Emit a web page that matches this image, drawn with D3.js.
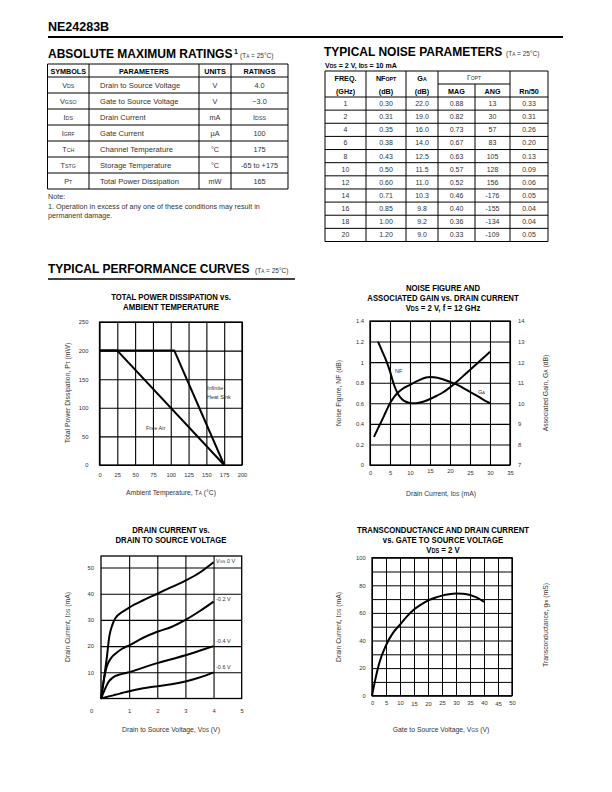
<!DOCTYPE html>
<html><head><meta charset="utf-8">
<script src="https://cdn.jsdelivr.net/npm/d3@7/dist/d3.min.js"></script>
<style>html,body{margin:0;padding:0;background:#fff}svg{display:block}</style>
</head><body>
<svg id="page" width="612" height="792" xmlns="http://www.w3.org/2000/svg"></svg>
<script>
// ================= DATA =================
// Absolute maximum ratings table
const amrSymbols = [["V","DS"],["V","GSO"],["I","DS"],["I","GRF"],["T","CH"],["T","STG"],["P","T"]];
const amrParams = ["Drain to Source Voltage","Gate to Source Voltage","Drain Current","Gate Current","Channel Temperature","Storage Temperature","Total Power Dissipation"];
const amrUnits = ["V","V","mA","\u00B5A","\u00B0C","\u00B0C","mW"];
const amrRatings = [["4.0"],["\u22123.0"],["I","DSS"],["100"],["175"],["-65 to +175"],["165"]];

// Typical noise parameters table
const noiseFreq = [1,2,4,6,8,10,12,14,16,18,20];
const noiseNF   = [0.30,0.31,0.35,0.38,0.43,0.50,0.60,0.71,0.85,1.00,1.20];
const noiseGA   = [22.0,19.0,16.0,14.0,12.5,11.5,11.0,10.3,9.8,9.2,9.0];
const noiseMag  = [0.88,0.82,0.73,0.67,0.63,0.57,0.52,0.46,0.40,0.36,0.33];
const noiseAng  = [13,30,57,83,105,128,156,-176,-155,-134,-109];
const noiseRn   = [0.33,0.31,0.26,0.20,0.13,0.09,0.06,0.05,0.04,0.04,0.05];

// Chart 1: total power dissipation vs ambient temperature
const pdTempTicks  = [0,25,50,75,100,125,150,175,200];
const pdPowerTicks = [0,50,100,150,200,250];
const heatSinkTemp  = [0,105,175];
const heatSinkPower = [200,200,0];
const freeAirTemp   = [0,25,175];
const freeAirPower  = [200,200,0];

// Chart 2: noise figure & associated gain vs drain current
const nfIdsTicks = [0,5,10,15,20,25,30,35];
const nfTicks    = [0,0.2,0.4,0.6,0.8,1,1.2,1.4];
const gaTicks    = [7,8,9,10,11,12,13,14];
const nfIds  = [2,3,4,5,6,7,8,9,10,11,12,13,14,16,18,20,22,24,26,28,30];
const nfVals = [1.2,1.11,1.02,0.91,0.78,0.69,0.64,0.615,0.603,0.60,0.603,0.612,0.625,0.66,0.70,0.755,0.82,0.89,0.96,1.03,1.1];
const gaIds  = [1,2,3,4,5,6,7,8,10,12,14,15,16,18,20,22,24,26,28,30];
const gaVals = [8.37,8.78,9.18,9.6,10.0,10.3,10.52,10.68,10.9,11.1,11.25,11.28,11.27,11.18,11.04,10.88,10.66,10.45,10.22,10.0];

// Chart 3: drain current vs drain-source voltage
const vdsTicks = [0,1,2,3,4,5];
const idsTicks = [10,20,30,40,50];
const vdsPts   = [0,0.1,0.2,0.3,0.4,0.5,0.75,1,1.5,2,2.5,3,3.5,4];
const idsVgs0  = [0,7,15,24,28,30.5,33,34.7,37.5,40,42.5,45,48,52];
const idsVgs02 = [0,7,12,14.5,16,17,19,20.3,23.2,25.5,27.3,30,33.3,37];
const idsVgs04 = [0,2.5,5,6.8,7.8,8.5,9.4,10,11.8,13.5,15,16.5,18.2,20];
const idsVgs06 = [0,0.3,0.6,0.9,1.1,1.4,2.1,2.8,3.9,4.7,5.4,6.5,8,10];
const vgsCurveLabels = ["0 V","-0.2 V","-0.4 V","-0.6 V"];

// Chart 4: transconductance & drain current vs gate-source voltage
const vgsTicks  = [0,5,10,15,20,25,30,35,40,45,50];
const idTicks4  = [0,20,40,60,80,100];
const vgsPts    = [0,1,2.5,5,7.5,10,12.5,15,17.5,20,22.5,25,27.5,30,32.5,35,37.5,40];
const idsVsVgs  = [0,10,23,36.5,45.5,51.5,57.5,62.5,66,69,71,72.5,73.5,74,73.8,73,71,68];

// ================= DRAWING =================
const FONT = '"Liberation Sans", Arial, Helvetica, sans-serif';
const svg = d3.select("#page").attr("font-family", FONT);
svg.append("rect").attr("width",612).attr("height",792).attr("fill","#fff");

function T(parent, x, y, parts, o = {}) {
  const size = o.size || 7;
  const t = parent.append("text").attr("x", x).attr("y", y).attr("font-size", size)
    .attr("fill", o.fill || "#333").attr("text-anchor", o.anchor || "start");
  if (o.bold) t.attr("font-weight", "bold");
  if (o.rotate) t.attr("transform", `rotate(-90 ${x} ${y})`);
  (Array.isArray(parts) ? parts : [parts]).forEach(p => {
    if (typeof p === "string") t.append("tspan").text(p);
    else t.append("tspan").attr("font-size", size * (p.k || 0.72)).text(p.s);
  });
  if (o.squeeze) {
    const w = t.node().getComputedTextLength();
    t.attr("textLength", w * o.squeeze).attr("lengthAdjust", "spacingAndGlyphs");
  }
  return t;
}
function L(parent, x1, y1, x2, y2, w = 1, c = "#000") {
  parent.append("line").attr("x1",x1).attr("y1",y1).attr("x2",x2).attr("y2",y2)
    .attr("stroke",c).attr("stroke-width",w);
}

// ---- Header ----
T(svg, 48, 31, "NE24283B", {size: 12.5, bold: true, fill: "#000"});
L(svg, 48, 37, 563, 37, 2);

// ---- Absolute maximum ratings ----
T(svg, 48, 58, "ABSOLUTE MAXIMUM RATINGS", {size: 12, bold: true, fill: "#000"});
T(svg, 234, 53.5, "1", {size: 7, bold: true, fill: "#000"});
T(svg, 240, 58, ["(T", {s:"A"}, " = 25\u00B0C)"], {size: 6.5, fill: "#333"});

const amr = svg.append("g");
const amrCols = [47.5, 89, 199, 231, 288];
const amrTop = 64, amrHeadBot = 77, amrRowH = 16;
const amrBot = amrHeadBot + amrRowH * amrParams.length;
amrCols.forEach(c => L(amr, c, amrTop, c, amrBot, 1));
L(amr, amrCols[0], amrTop, amrCols[4], amrTop, 1);
d3.range(amrParams.length + 1).forEach(i => L(amr, amrCols[0], amrHeadBot + i*amrRowH, amrCols[4], amrHeadBot + i*amrRowH, 1));
const amrHeads = ["SYMBOLS","PARAMETERS","UNITS","RATINGS"];
amrHeads.forEach((h,i) => T(amr, (amrCols[i]+amrCols[i+1])/2, 73.8, h, {size: 8, bold: true, fill: "#000", anchor: "middle", squeeze: 0.9}));
amrParams.forEach((p,i) => {
  const yb = amrHeadBot + i*amrRowH + 10.6;
  T(amr, (amrCols[0]+amrCols[1])/2, yb, [amrSymbols[i][0], {s: amrSymbols[i][1]}], {size: 7.3, anchor: "middle"});
  T(amr, 100, yb, p, {size: 7.6});
  T(amr, (amrCols[2]+amrCols[3])/2, yb, amrUnits[i], {size: 7.3, anchor: "middle"});
  const r = amrRatings[i];
  T(amr, (amrCols[3]+amrCols[4])/2, yb, r.length > 1 ? [r[0], {s: r[1]}] : r[0], {size: 7.3, anchor: "middle"});
});
T(svg, 48, 198.5, "Note:", {size: 7.2});
T(svg, 48, 208.5, "1. Operation in excess of any one of these conditions may result in", {size: 7.2});
T(svg, 48, 217.5, "permanent damage.", {size: 7.2});

// ---- Typical noise parameters ----
T(svg, 324, 56, "TYPICAL NOISE PARAMETERS", {size: 12, bold: true, fill: "#000"});
T(svg, 506, 56, ["(T", {s:"A"}, " = 25\u00B0C)"], {size: 6.5, fill: "#333"});
T(svg, 325, 68, ["V", {s:"DS"}, " = 2 V, I", {s:"DS"}, " = 10 mA"], {size: 7.5, bold: true, fill: "#000", squeeze: 0.94});

const nz = svg.append("g");
const nzCols = [325, 366, 406, 438, 475, 510, 548];
const nzTop = 71, nzSub = 84, nzHeadBot = 97, nzBot = 241.5;
const nzRowH = (nzBot - nzHeadBot) / noiseFreq.length;
[0,1,2,3,5,6].forEach(i => L(nz, nzCols[i], nzTop, nzCols[i], nzBot, 1));
L(nz, nzCols[4], nzSub, nzCols[4], nzBot, 1);
L(nz, nzCols[0], nzTop, nzCols[6], nzTop, 1);
L(nz, nzCols[3], nzSub, nzCols[5], nzSub, 1);
d3.range(noiseFreq.length + 1).forEach(i => L(nz, nzCols[0], nzHeadBot + i*nzRowH, nzCols[6], nzHeadBot + i*nzRowH, 1));
const cx = i => (nzCols[i] + nzCols[i+1]) / 2;
const hb = {size: 8, bold: true, fill: "#000", anchor: "middle", squeeze: 0.9};
T(nz, cx(0), 80.5, "FREQ.", hb);   T(nz, cx(0), 93.5, "(GHz)", hb);
T(nz, cx(1), 80.5, ["NF", {s:"OPT"}], hb); T(nz, cx(1), 93.5, "(dB)", hb);
T(nz, cx(2), 80.5, ["G", {s:"A"}], hb);    T(nz, cx(2), 93.5, "(dB)", hb);
T(nz, (nzCols[3]+nzCols[5])/2, 80, ["\u0393", {s:"OPT"}], {size: 7, anchor: "middle"});
T(nz, cx(3), 93.5, "MAG", hb); T(nz, cx(4), 93.5, "ANG", hb); T(nz, cx(5), 93.5, "Rn/50", hb);
const f2 = d3.format(".2f"), f1 = d3.format(".1f");
noiseFreq.forEach((f,i) => {
  const yb = nzHeadBot + i*nzRowH + nzRowH/2 + 2.5;
  const o = {size: 7, anchor: "middle"};
  T(nz, cx(0), yb, String(f), o);
  T(nz, cx(1), yb, f2(noiseNF[i]), o);
  T(nz, cx(2), yb, f1(noiseGA[i]), o);
  T(nz, cx(3), yb, f2(noiseMag[i]), o);
  T(nz, cx(4), yb, String(noiseAng[i]), o);
  T(nz, cx(5), yb, f2(noiseRn[i]), o);
});

// ---- Performance curves heading ----
T(svg, 48, 273, "TYPICAL PERFORMANCE CURVES", {size: 12, bold: true, fill: "#000"});
T(svg, 255, 273, ["(T", {s:"A"}, " = 25\u00B0C)"], {size: 6.5, fill: "#333"});
L(svg, 48, 279, 295, 279, 1.3);

// ---- generic plot frame ----
const TICK = 5.8;
function plot(cfg) {
  const g = svg.append("g");
  const x = d3.scaleLinear().domain(cfg.xDom).range([cfg.x0, cfg.x1]);
  const y = d3.scaleLinear().domain(cfg.yDom).range([cfg.y1, cfg.y0]);
  const h = cfg.y1 - cfg.y0, w = cfg.x1 - cfg.x0;
  const style = a => {
    a.attr("font-family", FONT).attr("font-size", TICK);
    a.select(".domain").remove();
    a.selectAll("line").attr("stroke", "#000").attr("stroke-width", cfg.gw || 1.1);
    a.selectAll("text").attr("fill", "#333");
  };
  g.append("g").attr("transform", `translate(0,${cfg.y1})`)
    .call(d3.axisBottom(x).tickValues(cfg.xGrid).tickSize(-h).tickFormat("")).call(style);
  g.append("g").attr("transform", `translate(${cfg.x0},0)`)
    .call(d3.axisLeft(y).tickValues(cfg.yGrid).tickSize(-w).tickFormat("")).call(style);
  const ax = g.append("g").attr("transform", `translate(0,${cfg.y1})`)
    .call(d3.axisBottom(x).tickValues(cfg.xTicks).tickSize(0).tickPadding(cfg.xPad).tickFormat(d3.format(""))).call(style);
  const ay = g.append("g").attr("transform", `translate(${cfg.x0},0)`)
    .call(d3.axisLeft(y).tickValues(cfg.yTicks).tickSize(0).tickPadding(cfg.yPad).tickFormat(cfg.yFmt || d3.format(""))).call(style);
  g.append("rect").attr("x", cfg.x0).attr("y", cfg.y0).attr("width", w).attr("height", h)
    .attr("fill", "none").attr("stroke", "#000").attr("stroke-width", 1.3);
  return {g, x, y, ax, ay};
}
function curve(p, xs, ys, xv, yv, curveType) {
  const pts = xv.map((v,i) => [v, yv[i]]);
  p.g.append("path").attr("d", d3.line().x(d => xs(d[0])).y(d => ys(d[1])).curve(curveType || d3.curveMonotoneX)(pts))
    .attr("fill", "none").attr("stroke", "#000").attr("stroke-width", 2).attr("stroke-linejoin", "round");
}
const TT = {size: 8.8, bold: true, fill: "#000", anchor: "middle", squeeze: 0.88};
const AX = {size: 6.8, fill: "#333", anchor: "middle"};

// ---- Chart 1 ----
{
  const c = {x0: 99.5, x1: 242, y0: 322, y1: 465, xDom: [0,200], yDom: [0,250],
    xGrid: pdTempTicks, yGrid: pdPowerTicks, xTicks: pdTempTicks, yTicks: pdPowerTicks, xPad: 8, yPad: 11};
  const p = plot(c);
  T(svg, 171, 300, "TOTAL POWER DISSIPATION vs.", TT);
  T(svg, 171, 310, "AMBIENT TEMPERATURE", TT);
  curve(p, p.x, p.y, heatSinkTemp, heatSinkPower, d3.curveLinear);
  curve(p, p.x, p.y, freeAirTemp, freeAirPower, d3.curveLinear);
  T(p.g, 207, 390, "Infinite", {size: 5.5});
  T(p.g, 207, 398.5, "Heat Sink", {size: 5.5});
  T(p.g, 146, 429.5, "Free Air", {size: 5.5});
  T(svg, 69.5, 393, ["Total Power Dissipation, P", {s:"T"}, " (mW)"], {...AX, rotate: true});
  T(svg, 171, 495, ["Ambient Temperature, T", {s:"A"}, " (\u00B0C)"], AX);
}

// ---- Chart 2 ----
{
  const c = {x0: 370, x1: 510, y0: 321, y1: 465, xDom: [0,35], yDom: [0,1.4],
    xGrid: nfIdsTicks, yGrid: nfTicks, xTicks: nfIdsTicks, yTicks: nfTicks, xPad: 6, yPad: 6};
  const p = plot(c);
  p.ax.selectAll(".tick text").filter(d => d === 15 || d === 20).attr("dy", "0.4em");
  const yR = d3.scaleLinear().domain([7,14]).range([c.y1, c.y0]);
  const ar = p.g.append("g").attr("transform", `translate(${c.x1},0)`)
    .call(d3.axisRight(yR).tickValues(gaTicks).tickSize(0).tickPadding(8).tickFormat(d3.format("")));
  ar.attr("font-family", FONT).attr("font-size", TICK); ar.select(".domain").remove(); ar.selectAll("text").attr("fill","#333");
  T(svg, 443, 291, "NOISE FIGURE AND", TT);
  T(svg, 443, 301, "ASSOCIATED GAIN vs. DRAIN CURRENT", TT);
  T(svg, 443, 310.5, ["V", {s:"DS"}, " = 2 V, f = 12 GHz"], TT);
  curve(p, p.x, p.y, nfIds, nfVals);
  curve(p, p.x, yR, gaIds, gaVals);
  T(p.g, 395, 372.5, "NF", {size: 5.5});
  T(p.g, 478, 394, ["G", {s:"A"}], {size: 5.5});
  T(svg, 340.5, 393, "Noise Figure, NF (dB)", {...AX, rotate: true});
  T(svg, 547.5, 393, ["Associated Gain, G", {s:"A"}, " (dB)"], {...AX, rotate: true});
  T(svg, 441, 496, ["Drain Current, I", {s:"DS"}, " (mA)"], AX);
}

// ---- Chart 3 ----
{
  const c = {x0: 101, x1: 241.7, y0: 556, y1: 698.5, xDom: [0,5], yDom: [0,54.4],
    xGrid: [1,2,3,4], yGrid: idsTicks, xTicks: vdsTicks, yTicks: idsTicks, xPad: 10, yPad: 7};
  const p = plot(c);
  p.ax.selectAll(".tick text").filter(d => d === 0).attr("x", -10);
  T(svg, 171, 533, "DRAIN CURRENT vs.", TT);
  T(svg, 171, 543, "DRAIN TO SOURCE VOLTAGE", TT);
  [idsVgs0, idsVgs02, idsVgs04, idsVgs06].forEach(s => curve(p, p.x, p.y, vdsPts, s));
  T(p.g, 216, 562.5, ["V", {s:"GS"}, " " + vgsCurveLabels[0]], {size: 5.5});
  T(p.g, 216, 601, vgsCurveLabels[1], {size: 5.5});
  T(p.g, 216, 643, vgsCurveLabels[2], {size: 5.5});
  T(p.g, 216, 668.5, vgsCurveLabels[3], {size: 5.5});
  T(svg, 69.5, 627, ["Drain Current, I", {s:"DS"}, " (mA)"], {...AX, rotate: true});
  T(svg, 171, 732, ["Drain to Source Voltage, V", {s:"DS"}, " (V)"], AX);
}

// ---- Chart 4 ----
{
  const c = {x0: 372, x1: 512, y0: 557.7, y1: 695.7, xDom: [0,50], yDom: [0,100],
    xGrid: vgsTicks, yGrid: d3.range(0,101,10), xTicks: vgsTicks, yTicks: idTicks4, xPad: 5, yPad: 6.3, gw: 1};
  const p = plot(c);
  p.ax.selectAll(".tick text").filter(d => d === 15 || d === 20 || d === 45).attr("dy", "1em");
  T(svg, 443, 533, "TRANSCONDUCTANCE AND DRAIN CURRENT", TT);
  T(svg, 443, 543, "vs. GATE TO SOURCE VOLTAGE", TT);
  T(svg, 443, 552.5, ["V", {s:"DS"}, " = 2 V"], TT);
  curve(p, p.x, p.y, vgsPts, idsVsVgs);
  T(svg, 340.5, 627, ["Drain Current, I", {s:"DS"}, " (mA)"], {...AX, rotate: true});
  T(svg, 547.5, 625, ["Transconductance, g", {s:"m"}, " (mS)"], {...AX, rotate: true});
  T(svg, 441, 732, ["Gate to Source Voltage, V", {s:"GS"}, " (V)"], AX);
}
</script>
</body></html>
